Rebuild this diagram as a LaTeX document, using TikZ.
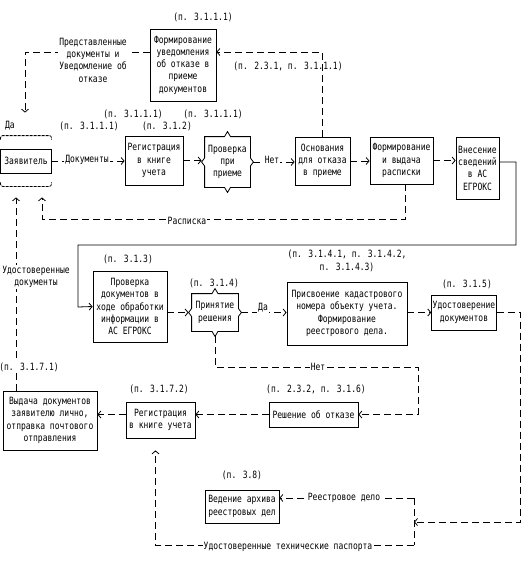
\documentclass[tikz,border=0pt]{standalone}
\usepackage{fontspec}
\setmainfont{DejaVu Sans Mono}[FakeStretch=0.8]
\usetikzlibrary{arrows.meta}
\tikzset{arrow/.style={->, >={Straight Barb[length=3pt,width=7pt]}}}
\tikzset{flow/.style={dash pattern=on 7pt off 4pt}}
\tikzset{box/.style={draw, align=center, inner sep=1pt}}
\tikzset{pref/.style={align=center, inner sep=1pt}}
\tikzset{lbl/.style={fill=white, align=center, inner sep=1pt}}
\newcommand{\choiceframe}[1]{%
  \draw (#1.north west) -- ([xshift=-3pt]#1.north) -- ([yshift=5pt]#1.north)
    -- ([xshift=3pt]#1.north) -- (#1.north east) -- ([yshift=4pt]#1.east)
    -- ([xshift=3pt]#1.east) -- ([yshift=-4pt]#1.east) -- (#1.south east)
    -- ([xshift=3pt]#1.south) -- ([yshift=-5pt]#1.south) -- ([xshift=-3pt]#1.south)
    -- (#1.south west) -- ([yshift=-4pt]#1.west) -- ([xshift=-3pt]#1.west)
    -- ([yshift=4pt]#1.west) -- cycle;}

\begin{document}
\begin{tikzpicture}[x=1pt, y=-1pt, line width=0.8pt, font=\fontsize{10}{12.3}\selectfont]
  \useasboundingbox (0,0) rectangle (528,566);

  \node[minimum width=50, minimum height=50, inner sep=0pt] (applicant) at (26,161) {Заявитель};
  \draw ([yshift=12pt]applicant.west) rectangle ([yshift=-12pt]applicant.east);
  \draw[dash pattern=on 3pt off 1pt, rounded corners=2pt] ([yshift=-4pt]applicant.north west)
    -- (applicant.north west) -- (applicant.north east) -- ([yshift=-4pt]applicant.north east);
  \draw[dash pattern=on 3pt off 1pt, rounded corners=2pt] ([yshift=4pt]applicant.south west)
    -- (applicant.south west) -- (applicant.south east) -- ([yshift=4pt]applicant.south east);

  \node[box, minimum width=66, minimum height=72] (notice) at (183,65)
    {Формирование\\уведомления\\об отказе в\\приеме\\документов};
  \node[box, minimum width=58, minimum height=49] (reg1) at (154,160.5) {Регистрация\\в книге\\учета};
  \node[pref, minimum width=45, minimum height=50] (check1) at (227.5,162) {Проверка\\при\\приеме};
  \node[box, minimum width=55, minimum height=48] (reason) at (322.5,161) {Основания\\для отказа\\в приеме};
  \node[box, minimum width=63, minimum height=47] (receipt) at (401.5,160.5) {Формирование\\и выдача\\расписки};
  \node[box, minimum width=43, minimum height=62] (entry) at (477.5,168) {Внесение\\сведений\\в АС\\ЕГРОКС};

  \node[box, minimum width=74, minimum height=71] (check2) at (130,306.5)
    {Проверка\\документов в\\ходе обработки\\информации в\\АС ЕГРОКС};
  \node[pref, minimum width=46, minimum height=37] (decide) at (215,312.5) {Принятие\\решения};
  \node[box, minimum width=120, minimum height=63] (assign) at (347,313.5)
    {Присвоение кадастрового\\номера объекту учета.\\Формирование\\реестрового дела.};
  \node[box, minimum width=64, minimum height=35] (certify) at (464,312.5) {Удостоверение\\документов};

  \node[box, minimum width=94, minimum height=59] (handout) at (50,420.5)
    {Выдача документов\\заявителю лично,\\отправка почтового\\отправления};
  \node[box, minimum width=69, minimum height=36] (reg2) at (160.5,420) {Регистрация\\в книге учета};
  \node[box, minimum width=89, minimum height=25] (refuse) at (313.5,414.5) {Решение об отказе};
  \node[box, minimum width=74, minimum height=33] (archive) at (242,506.5) {Ведение архива\\реестровых дел};

  \choiceframe{check1}
  \choiceframe{decide}

  \coordinate (split) at (414,522);
  \coordinate (splittop) at (414,498);
  \coordinate (splitbot) at (414,545);

  \draw[arrow,flow,shorten >=23pt] ([yshift=13pt]notice.west) -| ([xshift=-1pt]applicant.north);
  \draw[arrow,flow] (reason.north) |- ([yshift=13pt]notice.east);
  \draw[arrow,flow] (applicant.east) -- (applicant.east -| reg1.west);
  \draw[arrow,flow,shorten >=3pt] (reg1.east) -- (reg1.east -| check1.west);
  \draw[arrow,flow,shorten <=3pt] (check1.east) -- (check1.east -| reason.west);
  \draw[arrow,flow] (reason.east) -- (reason.east -| receipt.west);
  \draw[arrow,flow] (receipt.east) -- (receipt.east -| entry.west);
  \draw[arrow,flow,shorten >=11pt] ([xshift=4pt]receipt.south) -- ++(0,35) -| ([xshift=16pt]applicant.south);
  \draw[arrow] ([yshift=6pt]entry.east) -| (516,245) -| (78,307) -- (check2.west);
  \draw[arrow,flow,shorten >=3pt] (check2.east |- decide.west) -- (decide.west);
  \draw[arrow,flow,shorten <=3pt] (decide.east) -- (decide.east -| assign.west);
  \draw[arrow,flow] (assign.east |- certify.west) -- (certify.west);
  \draw[arrow,flow] (certify.east) -- ++(24,0) |- (split);
  \draw[flow] (splittop) -- (splitbot);
  \draw[arrow,flow] (splittop) -- (splittop -| archive.east);
  \draw[arrow,flow,shorten >=12pt] (splitbot) -| ([xshift=-5pt]reg2.south);
  \draw[arrow,flow,shorten <=5pt] (decide.south) -- ++(0,36) -- ++(203,0) |- (refuse.east);
  \draw[arrow,flow] (refuse.west) -- (refuse.west -| reg2.east);
  \draw[arrow,flow] (reg2.west |- refuse.west) -- (handout.east |- refuse.west);
  \draw[arrow,flow,shorten >=11pt] ([xshift=-34pt]handout.north) -- ([xshift=-10pt]applicant.south);

  \node[lbl] (sent) at (93,60) {Представленные\\документы и\\Уведомление об\\отказе};
  \node[lbl] (docs) at (87,160) {Документы};
  \node[lbl] (no1) at (272,160) {Нет};
  \node[lbl] (slip) at (187,221) {Расписка};
  \node[lbl] (certdocs) at (36,277) {Удостоверенные\\документы};
  \node[lbl] (yes2) at (263,308) {Да};
  \node[lbl] (no2) at (318,367) {Нет};
  \node[lbl] (file) at (344,498) {Реестровое дело};
  \node[lbl] (passports) at (288,547) {Удостоверенные технические паспорта};
  \node[pref] (yes1) at (10,126) {Да};

  \node[pref] (ref-notice) at (203,17) {(п. 3.1.1.1)};
  \node[pref] (ref-back) at (288,66) {(п. 2.3.1, п. 3.1.1.1)};
  \node[pref] (ref-docs) at (89,126) {(п. 3.1.1.1)};
  \node[pref] (ref-reg1a) at (133,114) {(п. 3.1.1.1)};
  \node[pref] (ref-reg1b) at (167,126) {(п. 3.1.2)};
  \node[pref] (ref-check1) at (213,114) {(п. 3.1.1.1)};
  \node[pref] (ref-check2) at (128,259) {(п. 3.1.3)};
  \node[pref] (ref-decide) at (214,283) {(п. 3.1.4)};
  \node[pref] (ref-assign) at (347,261) {(п. 3.1.4.1, п. 3.1.4.2,\\п. 3.1.4.3)};
  \node[pref] (ref-certify) at (467,284) {(п. 3.1.5)};
  \node[pref] (ref-refuse) at (316,389) {(п. 2.3.2, п. 3.1.6)};
  \node[pref] (ref-reg2) at (159,389) {(п. 3.1.7.2)};
  \node[lbl] (ref-handout) at (29,367) {(п. 3.1.7.1)};
  \node[pref] (ref-archive) at (242,475) {(п. 3.8)};
\end{tikzpicture}
\end{document}
